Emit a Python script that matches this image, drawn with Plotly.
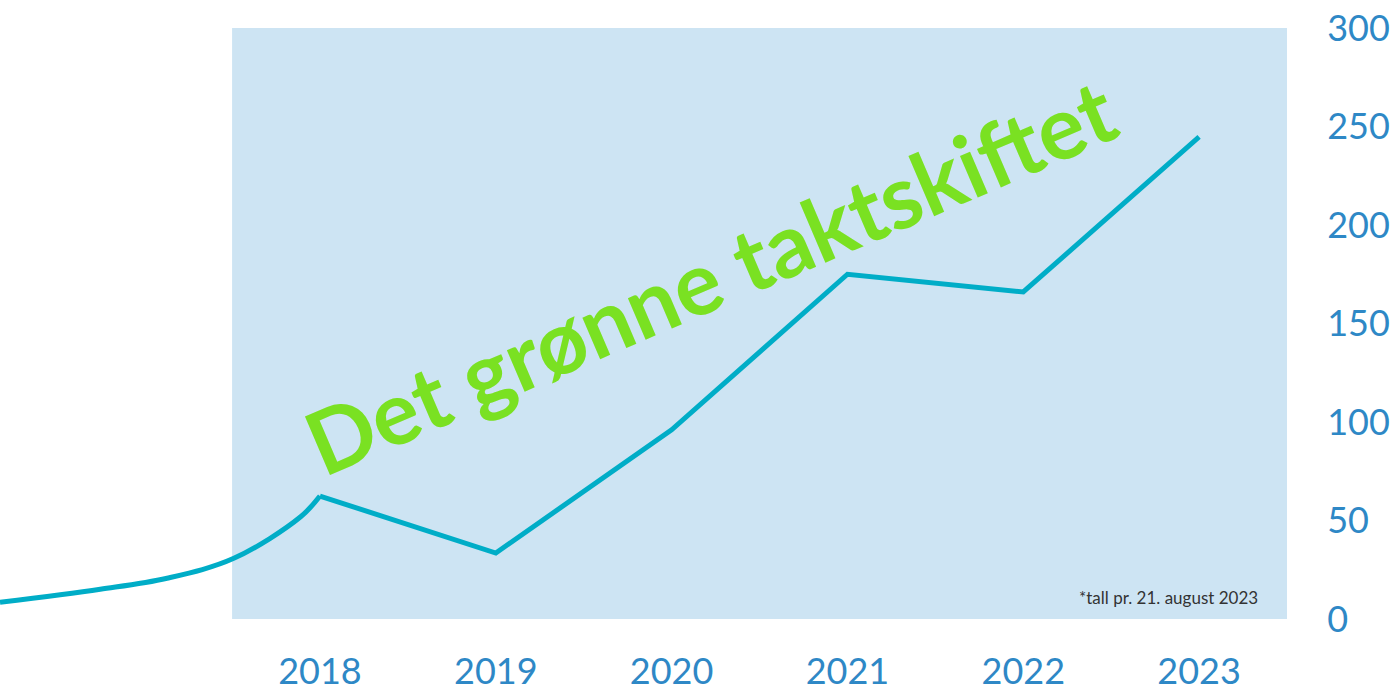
import plotly.graph_objects as go

# Data
years = [2018, 2019, 2020, 2021, 2022, 2023]
values = [62.4, 33.5, 96, 175, 166, 244.7]
# lead-in curve before 2018
pre_x = [2016.18, 2016.75, 2017.13, 2017.51, 2017.89, 2018]
pre_y = [8.5, 15.1, 20.7, 30.8, 51.9, 62.4]
y_ticks = [0, 50, 100, 150, 200, 250, 300]
title_text = "Det grønne taktskiftet"
note_text = "*tall pr. 21. august 2023"

LINE = "#00ADC7"
TICK = "#2E88C6"
BG = "#CDE4F3"
GREEN = "#7AE122"

fig = go.Figure()
fig.add_shape(type="rect", xref="x", yref="y", x0=2017.5, x1=2023.5, y0=0, y1=300,
              fillcolor=BG, line=dict(width=0), layer="below")
fig.add_trace(go.Scatter(x=pre_x, y=pre_y, mode="lines",
                         line=dict(color=LINE, width=5, shape="spline", smoothing=1),
                         hoverinfo="skip", showlegend=False, cliponaxis=False))
fig.add_trace(go.Scatter(x=years, y=values, mode="lines",
                         line=dict(color=LINE, width=5), showlegend=False))

fig.add_annotation(text=f"<b>{title_text}</b>", xref="paper", yref="paper",
                   x=0.552, y=0.582, xanchor="center", yanchor="middle",
                   textangle=-23.2, showarrow=False,
                   font=dict(family="Lato", size=88, color=GREEN))
fig.add_annotation(text=note_text, xref="paper", yref="paper",
                   x=1, xshift=-27, y=0.037, xanchor="right", yanchor="middle",
                   showarrow=False, font=dict(family="Lato", size=17, color="#333333"))

fig.update_layout(
    width=1395, height=691,
    margin=dict(l=0, r=108, t=28, b=72, autoexpand=False),
    paper_bgcolor="white", plot_bgcolor="white",
    xaxis=dict(range=[2016.18, 2023.5], tickvals=years, ticktext=[str(y) for y in years],
               showgrid=False, zeroline=False, showline=False, automargin=False,
               ticks="outside", ticklen=21, tickcolor="rgba(0,0,0,0)",
               tickfont=dict(family="Lato", size=36, color=TICK)),
    yaxis=dict(range=[0, 300], side="right", tickvals=y_ticks,
               showgrid=False, zeroline=False, showline=False, automargin=False,
               ticks="outside", ticklen=32, tickcolor="rgba(0,0,0,0)",
               tickfont=dict(family="Lato", size=36, color=TICK)),
)

fig.write_html("out.html", config={"displayModeBar": False},
               post_script="document.body.style.margin='0';")
